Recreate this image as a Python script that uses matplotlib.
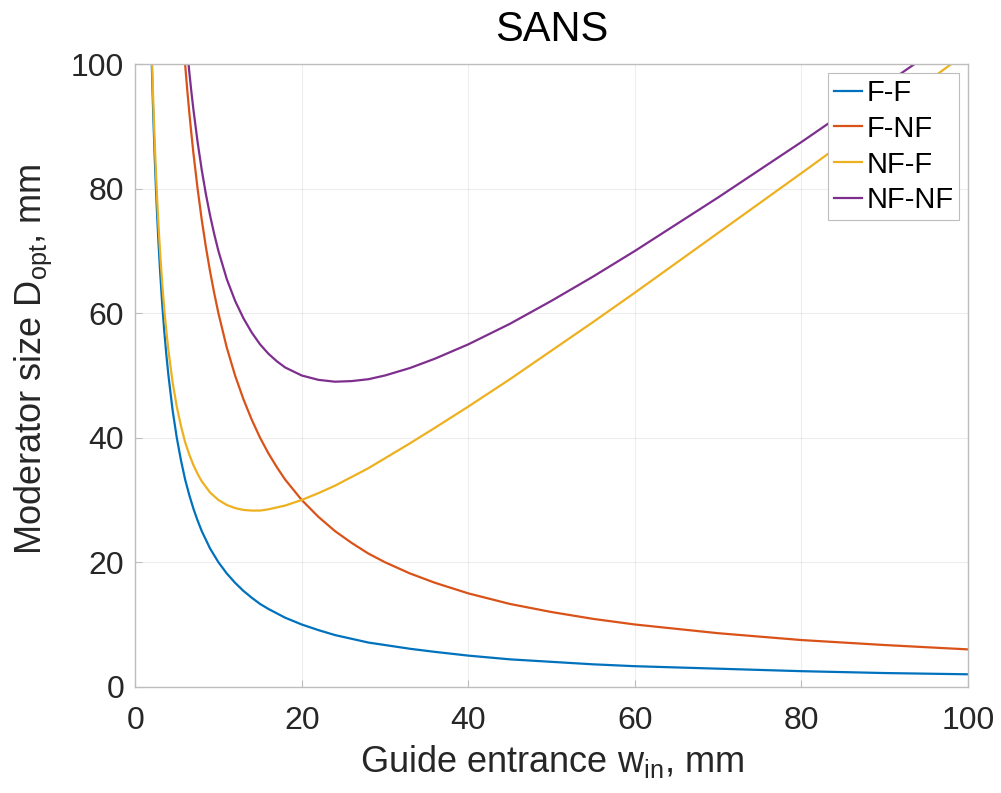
import matplotlib.pyplot as plt

# values
x_a = [1.8, 1.9, 2, 2.1, 2.2, 2.35, 2.5, 2.65, 2.8, 3, 3.25, 3.5, 3.75, 4, 4.5, 5, 5.5, 6,
       6.5, 7, 7.5, 8, 9, 10, 11, 12, 13, 14, 15, 16, 18, 20, 22, 24, 26, 28, 30, 33, 36,
       40, 45, 50, 55, 60, 70, 80, 90, 100]
x_b = [5.4, 5.6, 5.8, 6, 6.25, 6.5, 6.75, 7, 7.5, 8, 8.5, 9, 9.5, 10, 11, 12, 13, 14, 15,
       16, 17, 18, 20, 22, 24, 26, 28, 30, 33, 36, 40, 45, 50, 55, 60, 70, 80, 90, 100]

ff = [111.1, 105.3, 100, 95.2, 90.9, 85.1, 80, 75.5, 71.4, 66.7, 61.5, 57.1, 53.3, 50,
      44.4, 40, 36.4, 33.3, 30.8, 28.6, 26.7, 25, 22.2, 20, 18.2, 16.7, 15.4, 14.3, 13.3,
      12.5, 11.1, 10, 9.1, 8.3, 7.7, 7.1, 6.7, 6.1, 5.6, 5, 4.4, 4, 3.6, 3.3, 2.9, 2.5,
      2.2, 2]
nf_f = [112.9, 107.2, 102, 97.3, 93.1, 87.5, 82.5, 78.1, 74.2, 69.7, 64.8, 60.6, 57.1, 54,
        48.9, 45, 41.9, 39.3, 37.3, 35.6, 34.2, 33, 31.2, 30, 29.2, 28.7, 28.4, 28.3, 28.3,
        28.5, 29.1, 30, 31.1, 32.3, 33.7, 35.1, 36.7, 39.1, 41.6, 45, 49.4, 54, 58.6, 63.3,
        72.9, 82.5, 92.2, 102]
f_nf = [111.1, 107.1, 103.4, 100, 96, 92.3, 88.9, 85.7, 80, 75, 70.6, 66.7, 63.2, 60, 54.5,
        50, 46.2, 42.9, 40, 37.5, 35.3, 33.3, 30, 27.3, 25, 23.1, 21.4, 20, 18.2, 16.7, 15,
        13.3, 12, 10.9, 10, 8.6, 7.5, 6.7, 6]
nf_nf = [116.5, 112.7, 109.2, 106, 102.3, 98.8, 95.6, 92.7, 87.5, 83, 79.1, 75.7, 72.7, 70,
         65.5, 62, 59.2, 56.9, 55, 53.5, 52.3, 51.3, 50, 49.3, 49, 49.1, 49.4, 50, 51.2,
         52.7, 55, 58.3, 62, 65.9, 70, 78.6, 87.5, 96.7, 106]

labels = ["F-F", "F-NF", "NF-F", "NF-NF"]
colors = ["#0072BD", "#D95319", "#EDB120", "#7E2F8E"]

plt.rcParams["font.family"] = ["Liberation Sans", "DejaVu Sans"]
plt.rcParams["mathtext.default"] = "regular"

fig = plt.figure(figsize=(10.01, 7.93), dpi=100)
ax = fig.add_axes([0.135, 0.134, 0.832, 0.785])

ax.plot(x_a, ff, color=colors[0], lw=1.6, label=labels[0])
ax.plot(x_b, f_nf, color=colors[1], lw=1.6, label=labels[1])
ax.plot(x_a, nf_f, color=colors[2], lw=1.6, label=labels[2])
ax.plot(x_b, nf_nf, color=colors[3], lw=1.6, label=labels[3])

ax.set_xlim(0, 100)
ax.set_ylim(0, 100)
ax.set_xticks(range(0, 101, 20))
ax.set_yticks(range(0, 101, 20))
ax.grid(True, color="#262626", alpha=0.08, lw=0.8)
for s in ax.spines.values():
    s.set_color("#bdbdbd")
    s.set_linewidth(1.0)
ax.tick_params(direction="in", length=5, width=0.8, color="#bdbdbd",
               labelsize=23, labelcolor="#262626", top=False, right=False)
ax.tick_params(axis="x", pad=14)
ax.tick_params(axis="y", pad=8)

ax.set_title("SANS", fontsize=30, pad=17)
ax.set_xlabel("Guide entrance w$_{in}$, mm", fontsize=26, color="#262626", labelpad=5)
ax.set_ylabel("Moderator size D$_{opt}$, mm", fontsize=26, color="#262626", labelpad=12)
ax.yaxis.label.set_y(0.526)

leg = ax.legend(loc="upper right", fontsize=21, handlelength=0.95, handletextpad=0.15,
                borderaxespad=0.3, borderpad=0.2, labelspacing=0.27, frameon=True,
                fancybox=False, framealpha=1.0)
leg.get_frame().set_edgecolor("#bdbdbd")
leg.get_frame().set_linewidth(0.8)

fig.savefig("out.png", dpi=100)
